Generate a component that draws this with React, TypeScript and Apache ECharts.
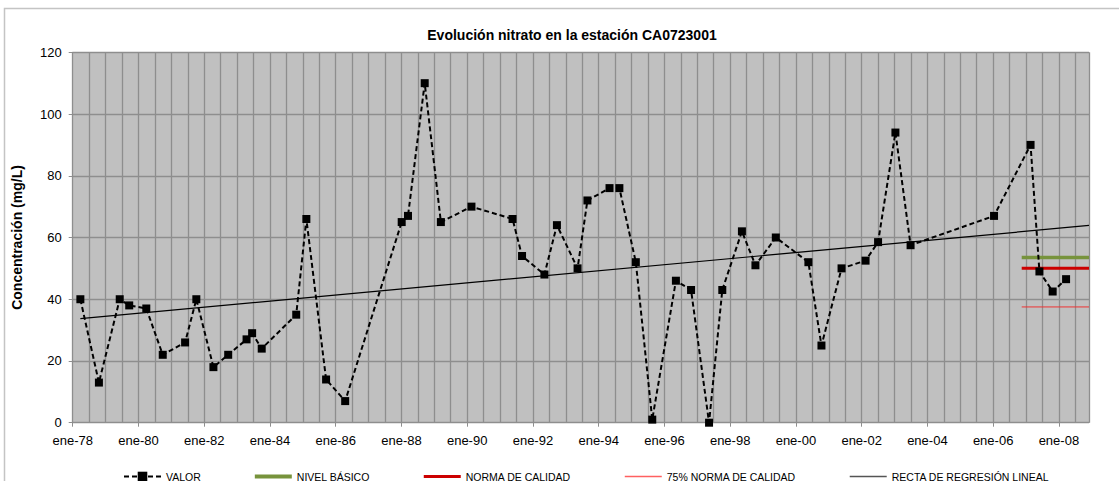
import React, { useEffect, useRef } from "react";
import * as echarts from "echarts";

const sampleDates = [
  "1978-03-25", "1978-10-18", "1979-06-06", "1979-09-20", "1980-03-27", "1980-09-27",
  "1981-06-02", "1981-10-05", "1982-04-12", "1982-09-24", "1983-04-15", "1983-06-16",
  "1983-10-01", "1984-10-19", "1985-02-10", "1985-09-16", "1986-04-15", "1988-01-04",
  "1988-03-13", "1988-09-16", "1989-03-13", "1990-02-18", "1991-05-18", "1991-09-02",
  "1992-05-07", "1992-09-24", "1993-05-10", "1993-08-28", "1994-04-30", "1994-08-18",
  "1995-02-18", "1995-08-18", "1996-05-07", "1996-10-23", "1997-05-10", "1997-10-05",
  "1998-05-10", "1998-10-08", "1999-05-21", "2000-05-18", "2000-10-11", "2001-05-21",
  "2002-02-14", "2002-07-01", "2003-01-11", "2003-06-27", "2006-01-11", "2007-02-21",
  "2007-05-28", "2007-10-23", "2008-03-20",
];
const nitrateValues = [
  40, 13, 40, 38, 37, 22, 26, 40, 18, 22, 27, 29, 24, 35, 66, 14, 7, 65, 67, 110,
  65, 70, 66, 54, 48, 64, 50, 72, 76, 76, 52, 1, 46, 43, 0, 43, 62, 51, 60, 52,
  25, 50, 52.5, 58.5, 94, 57.5, 67, 90, 49, 42.5, 46.5,
];

const axisStart = "1978-01-01";
const axisEnd = "2008-12-01";
const refStart = "2006-11-14";
const nivelBasico = 53.5;
const normaCalidad = 50;
const normaCalidad75 = 37.5;
const regressionDates = ["1978-03-25", "2008-12-01"];
const regressionValues = [33.7, 63.9];

const yTicks = [0, 20, 40, 60, 80, 100, 120];
const monthAbbr = "ene";

function toYear(s: string): number {
  const [y, m, d] = s.split("-").map(Number);
  return y + (m - 1 + (d - 1) / 30) / 12;
}

const FONT = "'Liberation Sans', Arial, sans-serif";

export default function App() {
  const ref = useRef<HTMLDivElement>(null);
  useEffect(() => {
    if (!ref.current) return;
    const chart = echarts.init(ref.current, null, { renderer: "svg" });
    const xMin = toYear(axisStart);
    const xMax = toYear(axisEnd);
    const valor = sampleDates.map((d, i) => [toYear(d), nitrateValues[i]]);
    const refX0 = toYear(refStart);
    const gridColor = "#8e8e8e";
    chart.setOption({
      animation: false,
      backgroundColor: "#ffffff",
      textStyle: { fontFamily: FONT },
      title: {
        text: "Evolución nitrato en la estación CA0723001",
        left: 567,
        top: 23,
        textAlign: "center",
        textStyle: { fontSize: 14, fontWeight: "bold", color: "#000", fontFamily: FONT },
      },
      graphic: [
        {
          type: "rect",
          shape: { x: 4.5, y: 8.5, width: 1300, height: 600 },
          style: { fill: "none", stroke: "#c4c4c4", lineWidth: 1.5 },
          silent: true,
          z: 0,
        },
      ],
      grid: { left: 72.7, right: 30, top: 52.3, bottom: 58.3, backgroundColor: "#c0c0c0", show: true, borderWidth: 0 },
      legend: {
        left: 118,
        top: 466,
        itemGap: 54,
        itemWidth: 37,
        itemHeight: 12,
        textStyle: { fontSize: 10.5, color: "#000", fontFamily: FONT },
        data: [
          { name: "VALOR" },
          { name: "NIVEL BÁSICO", icon: "path://M0,0h37v4h-37z", itemStyle: { color: "#77933c" } },
          { name: "NORMA DE CALIDAD", icon: "path://M0,0h37v3h-37z", itemStyle: { color: "#cc0000" } },
          { name: "75% NORMA DE CALIDAD", icon: "path://M0,0h37v1.3h-37z", itemStyle: { color: "#ff6060" } },
          { name: "RECTA DE REGRESIÓN LINEAL", icon: "path://M0,0h37v1.5h-37z", itemStyle: { color: "#555" } },
        ],
      },
      xAxis: [
        {
          type: "value",
          min: xMin,
          max: xMax,
          interval: 2,
          axisLine: { show: true, lineStyle: { color: gridColor, width: 1 } },
          axisTick: { show: true, length: 4, lineStyle: { color: gridColor } },
          axisLabel: {
            fontSize: 13,
            color: "#000",
            margin: 11,
            showMaxLabel: false,
            formatter: (v: number) => {
              const r = Math.round(v);
              if (Math.abs(v - r) > 1e-6 || r % 2 !== 0) return "";
              return monthAbbr + "-" + String(r).slice(2);
            },
          },
          splitLine: { show: false },
        },
        {
          type: "value",
          min: xMin,
          max: xMax,
          interval: 0.5,
          position: "bottom",
          axisLine: { show: false },
          axisTick: { show: false },
          axisLabel: { show: false },
          splitLine: { show: true, lineStyle: { color: gridColor, width: 1.3 } },
        },
      ],
      yAxis: {
        type: "value",
        min: yTicks[0],
        max: yTicks[yTicks.length - 1],
        interval: 20,
        name: "Concentración (mg/L)",
        nameLocation: "middle",
        nameRotate: 90,
        nameGap: 49,
        nameTextStyle: { fontSize: 14, fontWeight: "bold", color: "#000", fontFamily: FONT },
        axisLine: { show: true, lineStyle: { color: gridColor, width: 1 } },
        axisTick: { show: true, length: 4, lineStyle: { color: gridColor } },
        axisLabel: { fontSize: 13, color: "#000", margin: 11 },
        splitLine: { show: true, lineStyle: { color: gridColor, width: 1.3 } },
      },
      series: [
        {
          name: "VALOR",
          type: "line",
          data: valor,
          symbol: "rect",
          symbolSize: 8,
          itemStyle: { color: "#000" },
          lineStyle: { color: "#000", width: 2, type: [5, 3] },
          z: 5,
        },
        {
          name: "NIVEL BÁSICO",
          type: "line",
          data: [[refX0, nivelBasico], [xMax, nivelBasico]],
          symbol: "none",
          lineStyle: { color: "#77933c", width: 3.5 },
          itemStyle: { color: "#77933c" },
          z: 3,
        },
        {
          name: "NORMA DE CALIDAD",
          type: "line",
          data: [[refX0, normaCalidad], [xMax, normaCalidad]],
          symbol: "none",
          lineStyle: { color: "#cc0000", width: 3 },
          itemStyle: { color: "#cc0000" },
          z: 3,
        },
        {
          name: "75% NORMA DE CALIDAD",
          type: "line",
          data: [[refX0, normaCalidad75], [xMax, normaCalidad75]],
          symbol: "none",
          lineStyle: { color: "#ee3333", width: 1 },
          itemStyle: { color: "#ff6060" },
          z: 3,
        },
        {
          name: "RECTA DE REGRESIÓN LINEAL",
          type: "line",
          data: regressionDates.map((d, i) => [toYear(d), regressionValues[i]]),
          symbol: "none",
          lineStyle: { color: "#000", width: 1.2 },
          itemStyle: { color: "#555" },
          z: 4,
        },
      ],
    });
    return () => chart.dispose();
  }, []);
  return (
    <div
      ref={ref}
      style={{ position: "fixed", left: 0, top: 0, width: 1119, height: 481 }}
    />
  );
}
